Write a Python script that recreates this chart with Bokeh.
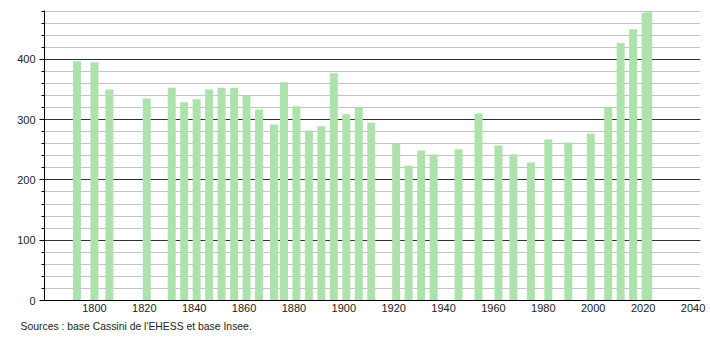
from bokeh.plotting import figure
from bokeh.models import SingleIntervalTicker, FixedTicker, Title, Range1d, ColumnDataSource
from bokeh.embed import file_html
from bokeh.resources import INLINE

years = [1793, 1800, 1806, 1821, 1831, 1836, 1841, 1846, 1851, 1856, 1861, 1866,
         1872, 1876, 1881, 1886, 1891, 1896, 1901, 1906, 1911, 1921, 1926, 1931,
         1936, 1946, 1954, 1962, 1968, 1975, 1982, 1990, 1999, 2006, 2011, 2016,
         2021, 2022]
population = [397, 395, 350, 335, 353, 329, 334, 350, 353, 353, 339, 317,
              292, 362, 322, 282, 289, 377, 309, 320, 295, 260, 224, 249,
              242, 251, 310, 257, 242, 229, 267, 262, 277, 320, 427, 450,
              477, 478]
x_ticks = [1800, 1820, 1840, 1860, 1880, 1900, 1920, 1940, 1960, 1980, 2000, 2020, 2040]
source_text = "Sources : base Cassini de l'EHESS et base Insee."

FONT = "Liberation Sans"

p = figure(width=710, height=340, output_backend="svg", toolbar_location=None,
           x_range=Range1d(1780, 2043), y_range=Range1d(0, 481),
           min_border_left=44, min_border_right=10, min_border_top=10,
           min_border_bottom=40)
p.outline_line_color = None
p.background_fill_color = "white"
p.border_fill_color = "white"

src = ColumnDataSource(dict(x=years, top=population))
p.vbar(x="x", top="top", width=3.2, bottom=0, source=src,
       fill_color="#ade2ad", line_color=None)

# y axis
p.yaxis.ticker = SingleIntervalTicker(interval=100, num_minor_ticks=5)
p.yaxis.axis_line_color = "black"
p.yaxis.major_tick_line_color = "black"
p.yaxis.major_tick_out = 5
p.yaxis.major_tick_in = 0
p.yaxis.minor_tick_line_color = "black"
p.yaxis.minor_tick_out = 3
p.yaxis.minor_tick_in = 0
p.yaxis.major_label_text_font = FONT
p.yaxis.major_label_text_font_size = "11px"
p.yaxis.major_label_text_color = "#222222"
p.yaxis.major_label_standoff = 4

# x axis
p.xaxis.ticker = FixedTicker(ticks=x_ticks)
p.xaxis.axis_line_color = "black"
p.xaxis.major_tick_line_color = None
p.xaxis.minor_tick_line_color = None
p.xaxis.major_label_text_font = FONT
p.xaxis.major_label_text_font_size = "11px"
p.xaxis.major_label_text_color = "#222222"
p.xaxis.major_label_standoff = -3

# grids
p.xgrid.grid_line_color = None
p.ygrid.ticker = SingleIntervalTicker(interval=100, num_minor_ticks=5)
p.ygrid.grid_line_color = "#333333"
p.ygrid.grid_line_width = 1
p.ygrid.minor_grid_line_color = "#c4c4c4"
p.ygrid.minor_grid_line_width = 1
p.ygrid.level = "underlay"

src_title = Title(text=source_text, align="left", offset=-24,
                  text_font=FONT, text_font_size="10.4px", text_color="#222222",
                  text_font_style="normal", standoff=8)
p.add_layout(src_title, "below")

open("out.html", "w").write(file_html(p, INLINE))
